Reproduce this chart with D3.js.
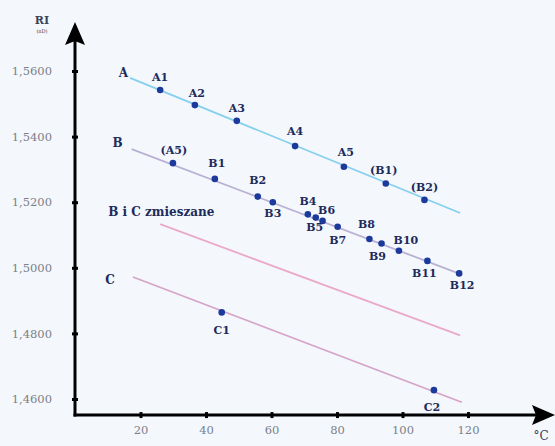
<!DOCTYPE html>
<html>
<head>
<meta charset="utf-8">
<script src="https://cdn.jsdelivr.net/npm/d3@7"></script>
<style>
  html, body { margin: 0; padding: 0; background: #f4f7fb; }
  svg { display: block; }
</style>
</head>
<body>
<svg id="chart"></svg>
<script>
var width = 555;
var height = 446;

// tick labels
var tempTicks = [20, 40, 60, 80, 100, 120];
var riTicks = [1.46, 1.48, 1.50, 1.52, 1.54, 1.56];

// measured points (temperature in C, refractive index)
var namesA = ["A1", "A2", "A3", "A4", "A5", "(B1)", "(B2)"];
var tempA = [26, 36.6, 49.4, 67.2, 82.1, 94.9, 106.7];
var riA = [1.5542, 1.5496, 1.5448, 1.5371, 1.5308, 1.5257, 1.5207];

var namesB = ["(A5)", "B1", "B2", "B3", "B4", "B5", "B6", "B7", "B8", "B9", "B10", "B11", "B12"];
var tempB = [29.9, 42.7, 55.8, 60.4, 71.1, 73.5, 75.6, 80.2, 89.9, 93.6, 98.9, 107.6, 117.3];
var riB = [1.5319, 1.5271, 1.5217, 1.5200, 1.5163, 1.5153, 1.5143, 1.5125, 1.5088, 1.5074, 1.5052, 1.5021, 1.4983];

var namesC = ["C1", "C2"];
var tempC = [44.8, 109.6];
var riC = [1.4864, 1.4627];

// trend lines: name, start temp, start RI, end temp, end RI
var lineNames = ["A", "B", "B i C zmieszane", "C"];
var lineTemp0 = [16.8, 17.3, 26, 17.7];
var lineRi0 = [1.5579, 1.5362, 1.5133, 1.4972];
var lineTemp1 = [117.6, 117.9, 117.6, 118.1];
var lineRi1 = [1.5167, 1.4980, 1.4794, 1.4590];

// styling of lines and where their names sit
var lineColors = ["#84d0ee", "#b9b1d4", "#eaaac7", "#d6a4c9"];
var lineLabelOffset = [[-2, -1], [-9, -2], [-52, -8], [-23, 7]];
var lineLabelAnchor = ["end", "end", "start", "middle"];

// label offsets for each point (dx, dy)
var offA = [[0, -13], [2, -12], [0, -13], [0, -15], [2, -15], [-2, -13], [0, -13]];
var offB = [[1, -13], [2, -16], [0, -16], [0, 11], [0, -13], [-1, 10], [4, -11], [0, 13], [-3, -15], [-4, 13], [7, -11], [-3, 12], [3, 12]];
var offC = [[0, 18], [-2, 17]];

var svg = d3.select("#chart")
    .attr("width", width)
    .attr("height", height);

var x = d3.scaleLinear()
    .domain([0, 120])
    .range([75, 468]);

var y = d3.scaleLinear()
    .domain([1.46, 1.56])
    .range([399, 71]);

var yBase = 1.4551; // where the temperature axis crosses
var labelFont = "'DejaVu Serif', 'Liberation Serif', serif";
var ink = "#1d2b5c";

var commaFmt = function(d) {
    return d3.format(".4f")(d).replace(".", ",");
};

// trend lines
var lines = lineNames.map(function(n, i) {
    return {name: n, t0: lineTemp0[i], r0: lineRi0[i], t1: lineTemp1[i], r1: lineRi1[i], i: i};
});

svg.selectAll("line.trend")
    .data(lines)
    .enter()
    .append("line")
    .attr("class", "trend")
    .attr("x1", function(d) { return x(d.t0); })
    .attr("y1", function(d) { return y(d.r0); })
    .attr("x2", function(d) { return x(d.t1); })
    .attr("y2", function(d) { return y(d.r1); })
    .attr("stroke", function(d) { return lineColors[d.i]; })
    .attr("stroke-width", 1.8);

svg.selectAll("text.linename")
    .data(lines)
    .enter()
    .append("text")
    .attr("class", "linename")
    .attr("x", function(d) { return x(d.t0) + lineLabelOffset[d.i][0]; })
    .attr("y", function(d) { return y(d.r0) + lineLabelOffset[d.i][1]; })
    .attr("text-anchor", function(d) { return lineLabelAnchor[d.i]; })
    .attr("font-family", labelFont)
    .attr("font-weight", "bold")
    .attr("font-size", 12)
    .attr("fill", ink)
    .text(function(d) { return d.name; });

// points
var points = [];
var addSeries = function(names, temps, ris, offs) {
    names.forEach(function(n, i) {
        points.push({name: n, t: temps[i], r: ris[i], off: offs[i]});
    });
};
addSeries(namesA, tempA, riA, offA);
addSeries(namesB, tempB, riB, offB);
addSeries(namesC, tempC, riC, offC);

svg.selectAll("circle.pt")
    .data(points)
    .enter()
    .append("circle")
    .attr("class", "pt")
    .attr("cx", function(d) { return x(d.t); })
    .attr("cy", function(d) { return y(d.r); })
    .attr("r", 3.3)
    .attr("fill", "#1c3a9c");

svg.selectAll("text.ptlabel")
    .data(points)
    .enter()
    .append("text")
    .attr("class", "ptlabel")
    .attr("x", function(d) { return x(d.t) + d.off[0]; })
    .attr("y", function(d) { return y(d.r) + d.off[1]; })
    .attr("dy", "0.35em")
    .attr("text-anchor", "middle")
    .attr("font-family", labelFont)
    .attr("font-weight", "bold")
    .attr("font-size", 11)
    .attr("fill", ink)
    .text(function(d) { return d.name; });

// axes
var yAxis = d3.axisLeft(y)
    .tickValues(riTicks)
    .tickFormat(commaFmt)
    .tickSizeInner(3)
    .tickSizeOuter(0)
    .tickPadding(20);

var xAxis = d3.axisBottom(x)
    .tickValues(tempTicks)
    .tickSizeInner(3)
    .tickSizeOuter(0)
    .tickPadding(8);

var gy = svg.append("g")
    .attr("transform", "translate(" + x(0) + ",0)")
    .call(yAxis);

var gx = svg.append("g")
    .attr("transform", "translate(0," + y(yBase) + ")")
    .call(xAxis);

[gx, gy].forEach(function(g) {
    g.select(".domain").remove();
    g.selectAll(".tick text")
        .attr("font-family", labelFont)
        .attr("font-size", 11.5)
        .attr("fill", "#7a7f8a");
});
gy.selectAll(".tick line")
    .attr("x1", -3).attr("x2", 3)
    .attr("stroke", "#000").attr("stroke-width", 3);
gx.selectAll(".tick line")
    .attr("y1", -3).attr("y2", 3)
    .attr("stroke", "#000").attr("stroke-width", 3);

// thick axis lines with arrow heads
var ox = x(0), oy = y(yBase);
svg.append("line")
    .attr("x1", ox).attr("y1", oy + 1.5)
    .attr("x2", ox).attr("y2", 40)
    .attr("stroke", "#000").attr("stroke-width", 3);
svg.append("line")
    .attr("x1", ox - 1.5).attr("y1", oy)
    .attr("x2", 536).attr("y2", oy)
    .attr("stroke", "#000").attr("stroke-width", 3);

svg.append("path")
    .attr("d", "M" + ox + ",22 L" + (ox - 10) + ",45 L" + ox + ",41 L" + (ox + 10) + ",45 Z")
    .attr("fill", "#000");
svg.append("path")
    .attr("d", "M555," + oy + " L532," + (oy - 10) + " L536," + oy + " L532," + (oy + 10) + " Z")
    .attr("fill", "#000");

// axis titles
svg.append("text")
    .attr("x", 42).attr("y", 24)
    .attr("text-anchor", "middle")
    .attr("font-family", labelFont)
    .attr("font-weight", "bold")
    .attr("font-size", 11)
    .attr("fill", "#3a4258")
    .text("RI");
svg.append("text")
    .attr("x", 42).attr("y", 33)
    .attr("text-anchor", "middle")
    .attr("font-family", labelFont)
    .attr("font-size", 5)
    .attr("fill", "#3a4258")
    .text("(nD)");
svg.append("text")
    .attr("x", 541).attr("y", 440)
    .attr("text-anchor", "middle")
    .attr("font-family", labelFont)
    .attr("font-size", 12)
    .attr("fill", "#3a4258")
    .text("°C");
</script>
</body>
</html>
